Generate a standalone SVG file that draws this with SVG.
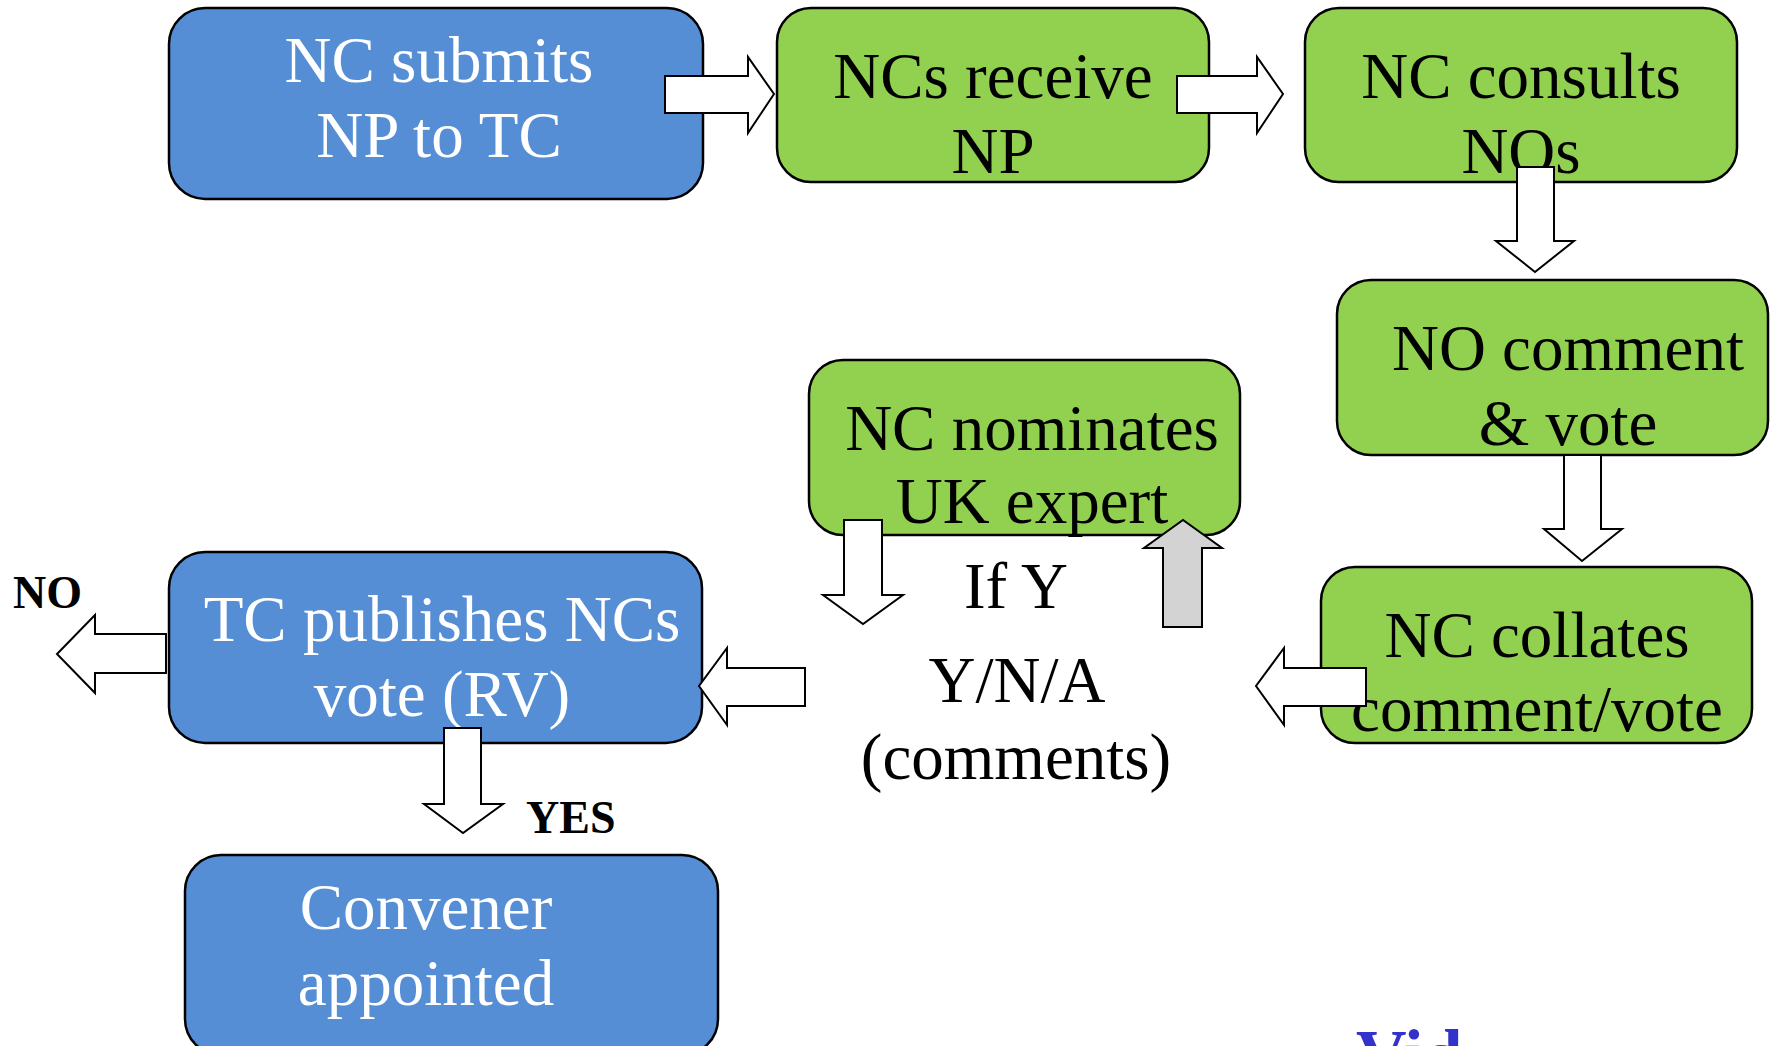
<svg xmlns="http://www.w3.org/2000/svg" width="1776" height="1046" viewBox="0 0 1776 1046">
<style>
.blue{fill:#558ED5;stroke:#000;stroke-width:2.5}
.green{fill:#92D050;stroke:#000;stroke-width:2.5}
.tw{font-family:"Liberation Serif","Times New Roman",serif;font-size:65px;fill:#fff;text-anchor:middle}
.tb{font-family:"Liberation Serif","Times New Roman",serif;font-size:65px;fill:#000;text-anchor:middle}
.lbl{font-family:"Liberation Serif","Times New Roman",serif;font-size:46px;font-weight:bold;fill:#000}
.arr{fill:#fff;stroke:#000;stroke-width:2}
.arrg{fill:#D3D3D3;stroke:#000;stroke-width:2}
</style>
<rect width="1776" height="1046" fill="#fff"/>
<g id="n1"><rect class="blue" x="169" y="8" width="534" height="191" rx="36"/>
<text class="tw" x="439" y="82">NC submits</text><text class="tw" x="439" y="157">NP to TC</text></g>
<g id="n2"><rect class="green" x="777" y="8" width="432" height="174" rx="34"/>
<text class="tb" x="993" y="98">NCs receive</text><text class="tb" x="993" y="173">NP</text></g>
<g id="n3"><rect class="green" x="1305" y="8" width="432" height="174" rx="34"/>
<text class="tb" x="1521" y="98">NC consults</text><text class="tb" x="1521" y="173">NOs</text></g>
<g id="n4"><rect class="green" x="1337" y="280" width="431" height="175" rx="34"/>
<text class="tb" x="1568" y="370">NO comment</text><text class="tb" x="1568" y="445">&amp; vote</text></g>
<g id="n5"><rect class="green" x="809" y="360" width="431" height="175" rx="34"/>
<text class="tb" x="1032" y="450">NC nominates</text><text class="tb" x="1032" y="523">UK expert</text></g>
<g id="n6"><rect class="green" x="1321" y="567" width="431" height="176" rx="34"/>
<text class="tb" x="1537" y="657">NC collates</text><text class="tb" x="1537" y="731">comment/vote</text></g>
<g id="n7"><rect class="blue" x="169" y="552" width="533" height="191" rx="36"/>
<text class="tw" x="442" y="641">TC publishes NCs</text><text class="tw" x="442" y="716">vote (RV)</text></g>
<g id="n8"><rect class="blue" x="185" y="855" width="533" height="200" rx="36"/>
<text class="tw" x="426" y="929">Convener</text><text class="tw" x="426" y="1005">appointed</text></g>
<g id="connectors">
<polygon class="arr" points="665,76 748,76 748,57 774,94 748,133 748,113 665,113"/>
<polygon class="arr" points="1177,76 1257,76 1257,57 1283,94 1257,133 1257,113 1177,113"/>
<polygon class="arr" points="1517,167 1554,167 1554,241 1574,241 1535,272 1496,241 1517,241"/>
<polygon class="arr" points="1564,455 1601,455 1601,529 1622,529 1582,561 1544,529 1564,529"/>
<polygon class="arr" points="1366,668 1284,668 1284,648 1256,686 1284,725 1284,706 1366,706"/>
<polygon class="arr" points="805,668 727,668 727,648 699,686 727,725 727,706 805,706"/>
<polygon class="arr" points="166,634 95,634 95,615 57,654 95,693 95,673 166,673"/>
<polygon class="arr" points="444,728 481,728 481,804 503,804 463,833 424,804 444,804"/>
<polygon class="arr" points="844,520 882,520 882,595 903,595 863,624 823,595 844,595"/>
<polygon class="arrg" points="1163,627 1202,627 1202,548 1222,548 1183,520 1144,548 1163,548"/>
</g>
<g id="labels">
<text class="tb" x="1016" y="608">If Y</text>
<text class="tb" x="1017" y="702">Y/N/A</text>
<text class="tb" x="1016" y="779">(comments)</text>
<text class="lbl" x="13" y="608">NO</text>
<text class="lbl" x="526" y="833">YES</text>
<text x="1356" y="1078" font-family="Liberation Serif,serif" font-size="70" font-weight="bold" fill="#3333CC">Vid</text>
</g>
</svg>
